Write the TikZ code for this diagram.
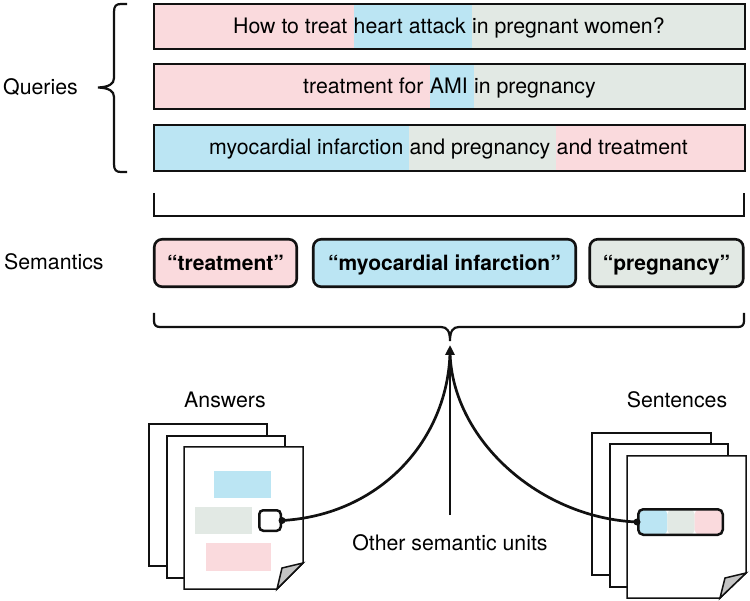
\documentclass[tikz,border=0pt]{standalone}
\usepackage{fontspec}
\setmainfont{TeX Gyre Heros}
\usetikzlibrary{arrows.meta,backgrounds,calc}
\definecolor{pk}{HTML}{FADADD}
\definecolor{bl}{HTML}{BBE5F3}
\definecolor{gr}{HTML}{E2E9E4}
\definecolor{ln}{HTML}{111111}
\definecolor{fold}{HTML}{C4C4C4}
\begin{document}
\begin{tikzpicture}[x=1pt,y=-1pt,
  qtext/.style={inner sep=0pt, anchor=base west, font=\fontsize{21.3}{25}\selectfont},
  lbl/.style={inner sep=0pt, font=\fontsize{21.3}{25}\selectfont},
  semb/.style={draw=ln, line width=2.6pt, rounded corners=8pt, minimum height=47.5pt, inner sep=0pt, text depth=0pt, font=\bfseries\fontsize{21}{25}\selectfont},
  qbox/.style={draw=ln, line width=2.4pt},
  brk/.style={draw=ln, line width=2.2pt},
  page/.style={draw=ln, fill=white, line width=1.5pt, line join=miter},
  conn/.style={draw=ln, line width=2.7pt},
  dotn/.style={circle, fill=ln, inner sep=0pt, minimum size=7pt}
]
\useasboundingbox (0,0) rectangle (750,601);

% ---------- Queries ----------
\node[qtext] (q1a) at (233,33.5) {How to treat\ \null};
\node[qtext] (q1b) at (q1a.base east) {heart attack\ \null};
\node[qtext] (q1c) at (q1b.base east) {in pregnant women?};
\coordinate (q1tl) at (154,4); \coordinate (q1br) at (745,49);

\node[qtext] (q2a) at (303,93.5) {treatment for\ \null};
\node[qtext] (q2b) at (q2a.base east) {AMI\ \null};
\node[qtext] (q2c) at (q2b.base east) {in pregnancy};
\coordinate (q2tl) at (154,64); \coordinate (q2br) at (745,109);

\node[qtext] (q3a) at (209,155) {myocardial infarction\ \null};
\node[qtext] (q3b) at (q3a.base east) {and pregnancy\ \null};
\node[qtext] (q3c) at (q3b.base east) {and treatment};
\coordinate (q3tl) at (154,125); \coordinate (q3br) at (745,171);

\begin{scope}[on background layer]
  \fill[pk] (q1tl) rectangle (q1b.west |- q1br);
  \fill[bl] (q1b.west |- q1tl) rectangle (q1c.west |- q1br);
  \fill[gr] (q1c.west |- q1tl) rectangle (q1br);
  \fill[pk] (q2tl) rectangle (q2b.west |- q2br);
  \fill[bl] (q2b.west |- q2tl) rectangle (q2c.west |- q2br);
  \fill[gr] (q2c.west |- q2tl) rectangle (q2br);
  \fill[bl] (q3tl) rectangle (q3b.west |- q3br);
  \fill[gr] (q3b.west |- q3tl) rectangle (q3c.west |- q3br);
  \fill[pk] (q3c.west |- q3tl) rectangle (q3br);
\end{scope}
\draw[qbox] (q1tl) rectangle (q1br);
\draw[qbox] (q2tl) rectangle (q2br);
\draw[qbox] (q3tl) rectangle (q3br);

\node[lbl, anchor=base west] (qlab) at (3,95) {Queries};
\draw[brk] (127,4) -- (121,4) .. controls (116,4) and (114,6) .. (114,12) -- (114,78)
  .. controls (114,84) and (109,87) .. (98,87.5)
  .. controls (109,88) and (114,91) .. (114,97) -- (114,164)
  .. controls (114,170) and (116,172) .. (121,172) -- (127,172);

% ---------- Semantics ----------
\node[lbl, anchor=base west] (slab) at (4,270) {Semantics};
\draw[brk] (154,193) -- (154,216) -- (744,216) -- (744,193);
\node[semb, fill=pk, minimum width=142.5pt] (s1) at (225.5,263) {“treatment”};
\node[semb, fill=bl, minimum width=262.5pt] (s2) at (444.5,263) {“myocardial infarction”};
\node[semb, fill=gr, minimum width=153.5pt] (s3) at (666.5,263) {“pregnancy”};
\draw[brk] (154,313) -- (154,321) .. controls (154,325) and (156,327) .. (160,327) -- (441,327)
  .. controls (447,327) and (450,331) .. (450,341)
  .. controls (450,331) and (453,327) .. (459,327) -- (738,327)
  .. controls (742,327) and (744,325) .. (744,321) -- (744,313);

% ---------- Answers pages ----------
\node[lbl, anchor=base] (anslab) at (225,408) {Answers};
\draw[page] (149,424) rectangle (267,566);
\draw[page] (167,436) rectangle (285,578);
\draw[page] (184,447) -- (303,447) -- (303,563) -- (277,589) -- (184,589) -- cycle;
\draw[page, fill=fold] (303,563) -- (282,568) -- (277,589) -- cycle;
\fill[bl] (214,471) rectangle (271,498);
\fill[gr] (195,507) rectangle (252,534);
\fill[pk] (206,543) rectangle (271,571);
\node[draw=ln, line width=2.5pt, fill=white, rounded corners=4pt, minimum width=21.5pt, minimum height=20.5pt, inner sep=0pt] (ansbox) at (270,520.5) {};

% ---------- Sentences pages ----------
\node[lbl, anchor=base] (senlab) at (677,408) {Sentences};
\draw[page] (592,433) rectangle (711,575);
\draw[page] (610,444) rectangle (728,587);
\draw[page] (627,456) -- (746,456) -- (746,573) -- (720,598) -- (627,598) -- cycle;
\draw[page, fill=fold] (746,573) -- (725,578) -- (720,598) -- cycle;
\node[draw=ln, line width=2.5pt, rounded corners=5pt, minimum width=84.5pt, minimum height=25.5pt, inner sep=0pt,
  path picture={
    \fill[bl] (path picture bounding box.south west) rectangle ($(path picture bounding box.north west)!0.345!(path picture bounding box.north east)$);
    \fill[gr] ($(path picture bounding box.south west)!0.345!(path picture bounding box.south east)$) rectangle ($(path picture bounding box.north west)!0.667!(path picture bounding box.north east)$);
    \fill[pk] ($(path picture bounding box.south west)!0.667!(path picture bounding box.south east)$) rectangle (path picture bounding box.north east);
  }] (sentbar) at (680.5,522) {};

% ---------- Connectors ----------
\coordinate (apex) at (450,352);
\coordinate (abot) at (450,515);
\coordinate (atip) at (450,345);
\node[dotn] (adot) at (ansbox.east) {};
\node[dotn] (sdot) at (sentbar.west) {};
\draw[conn, -{Triangle[length=10pt,width=9pt]}] (abot) -- (atip);
\draw[conn] (adot.center) .. controls (380,515) and (448,440) .. (apex);
\draw[conn] (apex) .. controls (452,440) and (540,518) .. (sdot.center);

\node[lbl, anchor=base] (other) at (450,550) {Other semantic units};
\end{tikzpicture}
\end{document}
